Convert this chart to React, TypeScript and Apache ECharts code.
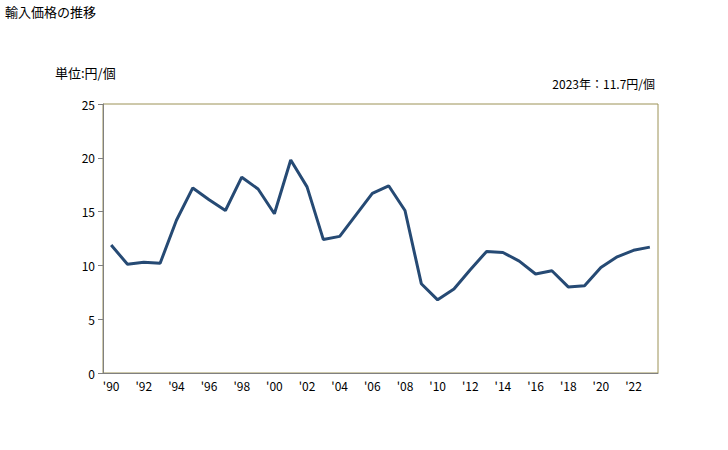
import React, { useEffect, useRef } from "react";
import * as echarts from "echarts";

const years = [
  1990, 1991, 1992, 1993, 1994, 1995, 1996, 1997, 1998, 1999,
  2000, 2001, 2002, 2003, 2004, 2005, 2006, 2007, 2008, 2009,
  2010, 2011, 2012, 2013, 2014, 2015, 2016, 2017, 2018, 2019,
  2020, 2021, 2022, 2023,
];
const prices = [
  11.9, 10.1, 10.3, 10.2, 14.2, 17.2, 16.1, 15.1, 18.2, 17.1,
  14.8, 19.8, 17.3, 12.4, 12.7, 14.7, 16.7, 17.4, 15.1, 8.3,
  6.8, 7.8, 9.6, 11.3, 11.2, 10.4, 9.2, 9.5, 8.0, 8.1,
  9.8, 10.8, 11.4, 11.7,
];
const title = "輸入価格の推移";
const unitLabel = "単位:円/個";
const note = "2023年：11.7円/個";

const FONT = "'Noto Sans CJK JP', 'DejaVu Sans', sans-serif";

export default function App() {
  const ref = useRef<HTMLDivElement>(null);
  useEffect(() => {
    if (!ref.current) return;
    const chart = echarts.init(ref.current, null, { renderer: "svg" });
    chart.setOption({
      animation: false,
      backgroundColor: "#ffffff",
      textStyle: { fontFamily: FONT },
      graphic: [
        { type: "text", left: 5, top: 5, style: { text: title, fontSize: 13, fill: "#000", fontFamily: FONT } },
        { type: "text", left: 55, top: 66, style: { text: unitLabel, fontSize: 13, fill: "#000", fontFamily: FONT } },
        { type: "text", right: 73, top: 77, style: { text: note, fontSize: 12, fill: "#000", fontFamily: FONT } },
      ],
      grid: {
        left: 103, right: 70, top: 104, bottom: 77,
        show: true, borderColor: "#9c9256", borderWidth: 1, backgroundColor: "transparent",
      },
      xAxis: {
        type: "category",
        data: years.map((y) => "'" + String(y).slice(2)),
        boundaryGap: true,
        axisLine: { lineStyle: { color: "#808080", width: 1 } },
        axisTick: { show: false },
        axisLabel: {
          interval: 1, color: "#000", fontSize: 12, margin: 6, fontFamily: FONT,
        },
        splitLine: { show: false },
      },
      yAxis: {
        type: "value",
        min: 0, max: 25, interval: 5,
        axisLine: { show: true, lineStyle: { color: "#808080", width: 1 } },
        axisTick: { show: true, length: 5, lineStyle: { color: "#808080" } },
        axisLabel: { color: "#000", fontSize: 12, margin: 8, fontFamily: FONT },
        splitLine: { show: false },
      },
      series: [
        {
          type: "line",
          data: prices,
          symbol: "none",
          lineStyle: { color: "#264a74", width: 3 },
        },
      ],
    });
    return () => chart.dispose();
  }, []);
  return <div ref={ref} style={{ width: 728, height: 450, position: "absolute", left: 0, top: 0 }} />;
}
